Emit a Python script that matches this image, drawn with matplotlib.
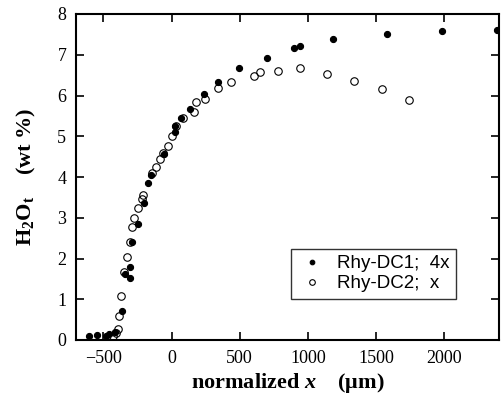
import matplotlib
matplotlib.use("Agg")
import matplotlib.pyplot as plt

# Rhy-DC1; 4x (filled)
x_dc1 = [-607, -549, -481, -456, -415, -364, -339, -305, -303, -293, -247, -205,
         -171, -154, -56, 24, 24, 70, 134, 241, 341, 495, 702, 900, 944, 1182,
         1582, 1980, 2382]
y_dc1 = [0.11, 0.12, 0.11, 0.14, 0.20, 0.70, 1.61, 1.51, 1.79, 2.40, 2.85, 3.37,
         3.86, 4.04, 4.57, 5.10, 5.25, 5.46, 5.67, 6.04, 6.33, 6.67, 6.91, 7.17,
         7.22, 7.38, 7.50, 7.59, 7.61]

# Rhy-DC2; x (open)
x_dc2 = [-427, -407, -391, -386, -368, -349, -326, -307, -287, -273, -246, -215,
         -209, -146, -112, -86, -63, -26, 3, 36, 85, 164, 183, 244, 341, 439, 602,
         646, 780, 939, 1138, 1339, 1546, 1738]
y_dc2 = [0.10, 0.16, 0.27, 0.58, 1.08, 1.67, 2.03, 2.41, 2.77, 2.99, 3.23, 3.46,
         3.57, 4.11, 4.25, 4.43, 4.59, 4.77, 5.01, 5.24, 5.46, 5.60, 5.83, 5.91,
         6.19, 6.34, 6.48, 6.58, 6.60, 6.67, 6.52, 6.36, 6.16, 5.89]

plt.rcParams['mathtext.fontset'] = 'custom'
plt.rcParams['mathtext.rm'] = 'Liberation Serif'
plt.rcParams['mathtext.it'] = 'Liberation Serif:italic'
plt.rcParams['mathtext.bf'] = 'Liberation Serif:bold'
plt.rcParams['mathtext.bfit'] = 'Liberation Serif:italic:bold'

fig = plt.figure(figsize=(5.01, 3.96), dpi=100)
ax = fig.add_axes([76/501, 1 - 340/396, (499 - 76)/501, (340 - 14)/396])

ax.plot(x_dc1, y_dc1, 'o', ms=4.4, mfc='black', mec='black', mew=0.8,
        label='Rhy-DC1;  4x', zorder=3)
ax.plot(x_dc2, y_dc2, 'o', ms=5.4, mfc='none', mec='black', mew=0.8,
        label='Rhy-DC2;  x', zorder=2)

ax.set_xlim(-700, 2400)
ax.set_ylim(0, 8)
ax.set_xticks([-500, 0, 500, 1000, 1500, 2000])
ax.set_yticks(range(0, 9))

serif = ['Liberation Serif', 'DejaVu Serif']
for lab in ax.get_xticklabels() + ax.get_yticklabels():
    lab.set_family(serif)
    lab.set_fontsize(13)
ax.tick_params(direction='in', length=6, width=1.2, top=True, right=True, pad=7)
for s in ax.spines.values():
    s.set_linewidth(1.5)

ax.set_xlabel(r'normalized $\mathbfit{x}$    (μm)', family=serif,
              fontsize=16, fontweight='bold', labelpad=3)
ax.set_ylabel(r'H$_\mathbf{2}$O$_\mathbf{t}$    (wt %)', family=serif,
              fontsize=16, fontweight='bold', labelpad=14)

leg = ax.legend(loc='lower right', bbox_to_anchor=(0.898, 0.126), frameon=True,
                fancybox=False, edgecolor='black', markerscale=0.75,
                borderaxespad=0,
                prop={'family': 'Liberation Sans', 'size': 13.5},
                handletextpad=0.5, borderpad=0.35, labelspacing=0.15,
                handlelength=1.6)
leg.get_frame().set_linewidth(1.0)

fig.savefig('out.png', dpi=100)
